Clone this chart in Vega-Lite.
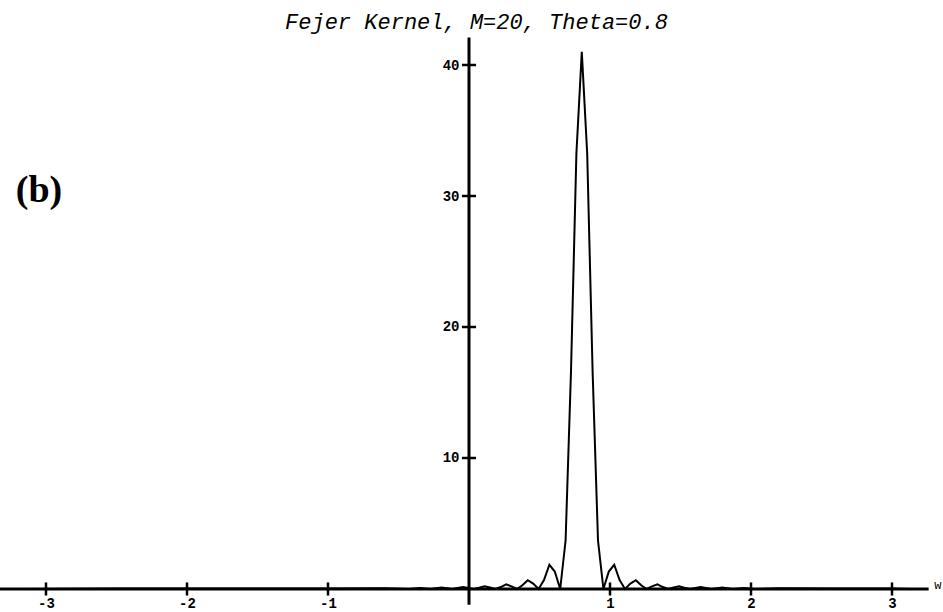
{
  "$schema": "https://vega.github.io/schema/vega-lite/v6.json",
  "width": 943,
  "height": 612,
  "autosize": {"type": "none"},
  "padding": 0,
  "background": "white",
  "config": {"view": {"stroke": null}},
  "title": {
    "text": "Fejer Kernel, M=20, Theta=0.8",
    "font": "Liberation Mono",
    "fontStyle": "italic",
    "fontWeight": "normal",
    "fontSize": 22,
    "color": "black",
    "anchor": "middle",
    "dx": 5,
    "offset": -51,
    "baseline": "alphabetic"
  },
  "datasets": {
    "kernel": [
      {"w": -3.14, "f": 0.0}, {"w": -2.5, "f": 0.03}, {"w": -2.0, "f": 0.03}, {"w": -1.5, "f": 0.04},
      {"w": -1.0, "f": 0.04}, {"w": -0.6, "f": 0.05}, {"w": -0.426, "f": 0.0}, {"w": -0.3494, "f": 0.08},
      {"w": -0.2728, "f": 0.0}, {"w": -0.1961, "f": 0.11}, {"w": -0.1195, "f": 0.0}, {"w": -0.0429, "f": 0.15},
      {"w": 0.0338, "f": 0.0}, {"w": 0.0721, "f": 0.1}, {"w": 0.1104, "f": 0.21}, {"w": 0.1487, "f": 0.12},
      {"w": 0.187, "f": 0.0}, {"w": 0.2253, "f": 0.15}, {"w": 0.2636, "f": 0.35}, {"w": 0.3019, "f": 0.2},
      {"w": 0.3403, "f": 0.0}, {"w": 0.3786, "f": 0.28}, {"w": 0.4169, "f": 0.67}, {"w": 0.4552, "f": 0.41},
      {"w": 0.4935, "f": 0.0}, {"w": 0.5318, "f": 0.68}, {"w": 0.5701, "f": 1.85}, {"w": 0.6084, "f": 1.33},
      {"w": 0.6468, "f": 0.0}, {"w": 0.6851, "f": 3.7}, {"w": 0.7234, "f": 16.62}, {"w": 0.7617, "f": 33.24},
      {"w": 0.8, "f": 41.0}, {"w": 0.8383, "f": 33.24}, {"w": 0.8766, "f": 16.62}, {"w": 0.9149, "f": 3.7},
      {"w": 0.9533, "f": 0.0}, {"w": 0.9916, "f": 1.33}, {"w": 1.0299, "f": 1.85}, {"w": 1.0682, "f": 0.68},
      {"w": 1.1065, "f": 0.0}, {"w": 1.1448, "f": 0.41}, {"w": 1.1831, "f": 0.67}, {"w": 1.2214, "f": 0.28},
      {"w": 1.2598, "f": 0.0}, {"w": 1.2981, "f": 0.2}, {"w": 1.3364, "f": 0.35}, {"w": 1.3747, "f": 0.15},
      {"w": 1.413, "f": 0.0}, {"w": 1.4513, "f": 0.12}, {"w": 1.4896, "f": 0.21}, {"w": 1.5279, "f": 0.1},
      {"w": 1.5663, "f": 0.0}, {"w": 1.6429, "f": 0.15}, {"w": 1.7195, "f": 0.0}, {"w": 1.7961, "f": 0.11},
      {"w": 1.8728, "f": 0.0}, {"w": 1.9494, "f": 0.08}, {"w": 2.026, "f": 0.0}, {"w": 2.2, "f": 0.05},
      {"w": 2.6, "f": 0.04}, {"w": 3.0, "f": 0.03}, {"w": 3.14, "f": 0.0}
    ],
    "xticks": [{"v": -3}, {"v": -2}, {"v": -1}, {"v": 1}, {"v": 2}, {"v": 3}],
    "yticks": [{"v": 10}, {"v": 20}, {"v": 30}, {"v": 40}],
    "one": [{"n": 1}]
  },
  "layer": [
    {
      "data": {"name": "kernel"},
      "mark": {"type": "line", "color": "black", "strokeWidth": 2},
      "encoding": {
        "x": {
          "field": "w", "type": "quantitative",
          "scale": {"domain": [-3.3262, 3.3617], "nice": false, "zero": false},
          "axis": {
            "orient": "bottom", "offset": -23, "values": [-3, -2, -1, 1, 2, 3],
            "labelExpr": "'' + datum.value", "domain": false, "ticks": false, "grid": false,
            "title": null, "labelFont": "Liberation Mono", "labelFontSize": 14,
            "labelFontWeight": "bold", "labelColor": "black", "labelPadding": 7
          }
        },
        "y": {
          "field": "f", "type": "quantitative",
          "scale": {"domain": [-1.756, 44.962], "nice": false, "zero": false},
          "axis": {
            "orient": "left", "offset": -469, "values": [10, 20, 30, 40],
            "domain": false, "ticks": false, "grid": false, "title": null,
            "labelFont": "Liberation Mono", "labelFontSize": 14, "labelFontWeight": "bold",
            "labelColor": "black", "labelPadding": 10
          }
        }
      }
    },
    {
      "data": {"name": "one"},
      "mark": {"type": "rule", "color": "black", "strokeWidth": 3},
      "encoding": {"x": {"datum": -3.33}, "x2": {"datum": 3.26}, "y": {"datum": 0}}
    },
    {
      "data": {"name": "one"},
      "mark": {"type": "rule", "color": "black", "strokeWidth": 3},
      "encoding": {"x": {"datum": 0}, "y": {"datum": -1.2}, "y2": {"datum": 42.1}}
    },
    {
      "data": {"name": "xticks"},
      "mark": {"type": "rule", "color": "black", "strokeWidth": 2.5},
      "encoding": {"x": {"field": "v", "type": "quantitative"}, "y": {"datum": -0.5}, "y2": {"datum": 0.5}}
    },
    {
      "data": {"name": "yticks"},
      "mark": {"type": "rule", "color": "black", "strokeWidth": 2.5},
      "encoding": {"y": {"field": "v", "type": "quantitative"}, "x": {"datum": -0.05}, "x2": {"datum": 0.05}}
    },
    {
      "data": {"name": "one"},
      "mark": {"type": "text", "text": "(b)", "font": "Liberation Serif", "fontWeight": "bold", "fontSize": 38, "align": "center", "baseline": "alphabetic", "color": "black"},
      "encoding": {"x": {"datum": -3.05}, "y": {"datum": 29.54}}
    },
    {
      "data": {"name": "one"},
      "mark": {"type": "text", "text": "w", "font": "Liberation Mono", "fontSize": 12, "align": "left", "baseline": "middle", "color": "black"},
      "encoding": {"x": {"datum": 3.3}, "y": {"datum": 0.3}}
    }
  ]
}
